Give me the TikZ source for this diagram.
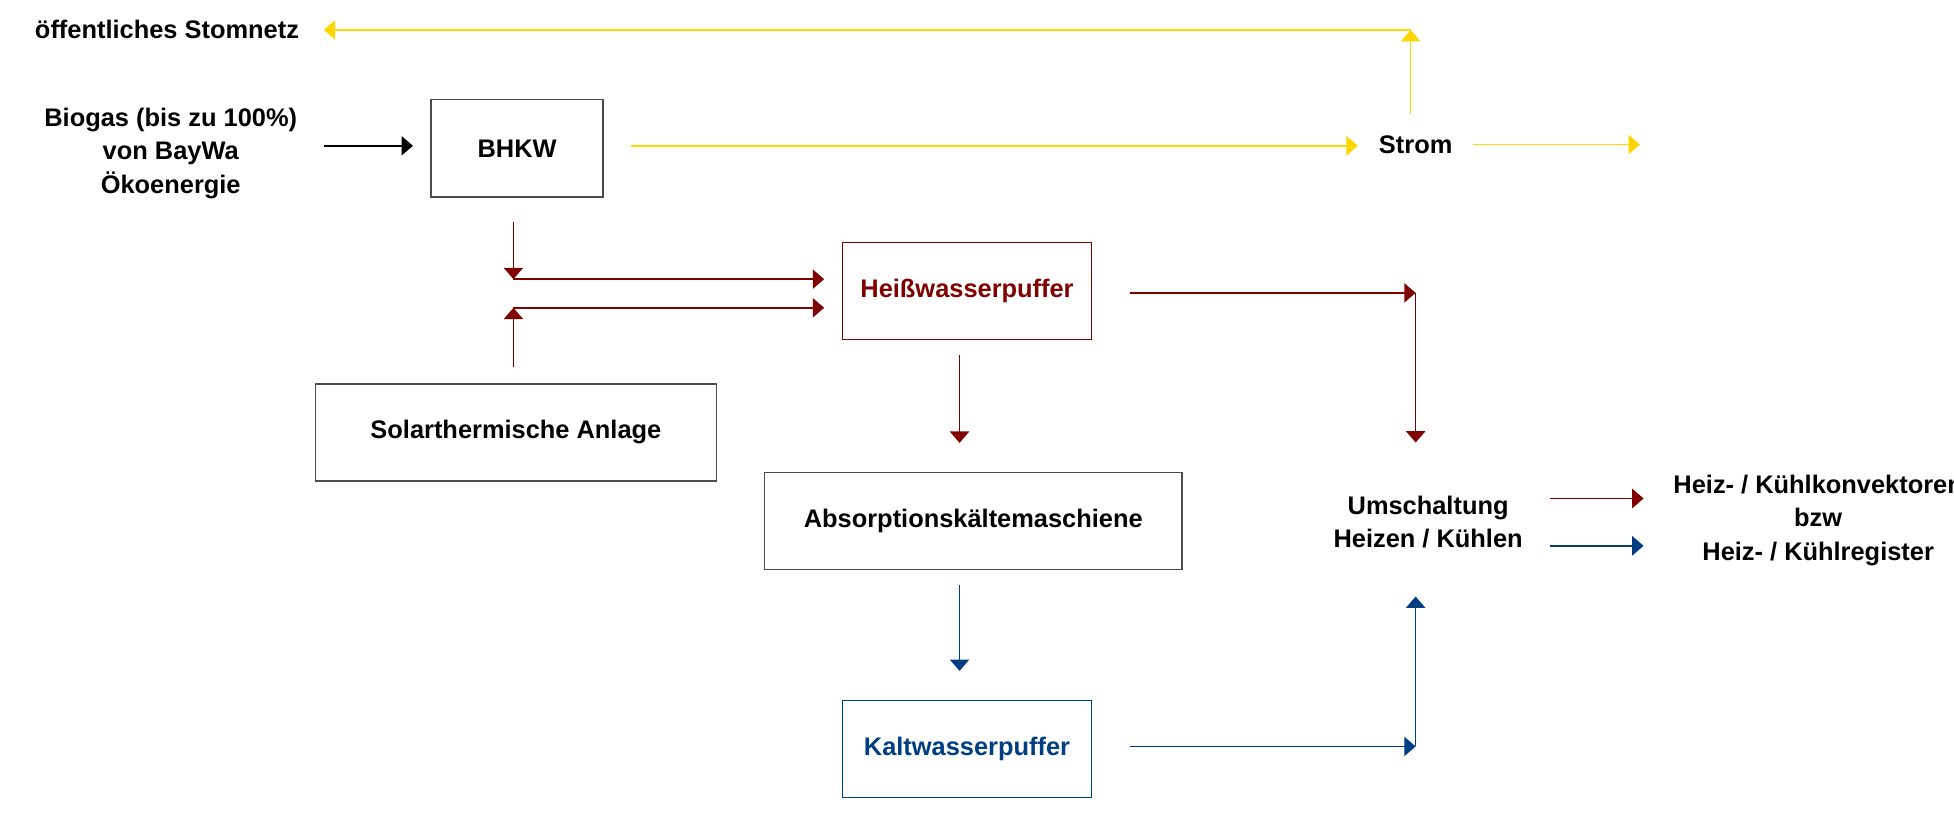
\documentclass[tikz,border=0pt]{standalone}
\usepackage{fontspec}
\setmainfont{Liberation Sans}
\usetikzlibrary{arrows.meta}
\definecolor{gelb}{RGB}{255,214,0}
\definecolor{dunkelrot}{RGB}{128,0,0}
\definecolor{dunkelblau}{RGB}{0,62,130}
\tikzset{
  kasten/.style={draw=black!70, line width=0.8pt, minimum height=1.95cm, inner sep=0pt},
  pfeil/.style={-{Triangle[length=6.5pt,width=11pt]}, line width=0.8pt},
  gelbpfeil/.style={pfeil, draw=gelb},
  rotpfeil/.style={pfeil, draw=dunkelrot, line width=0.9pt},
  blaupfeil/.style={pfeil, draw=dunkelblau, line width=0.9pt},
}
\begin{document}
\begin{tikzpicture}[x=0.025cm, y=-0.025cm, font=\fontsize{14.5}{19}\selectfont\bfseries]
            \useasboundingbox (0,0) rectangle (1568,667);
            \node (netz) at (134,24) {öffentliches Stomnetz};
            \node[align=center] (biogas) at (137,123) {Biogas (bis zu 100\%)\\von BayWa\\Ökoenergie};
            \node[kasten, minimum width=3.45cm] (bhkw) at (415,119) {BHKW};
            \node (strom) at (1136,116) {Strom};
            \node[kasten, minimum width=5cm, draw=dunkelrot, text=dunkelrot] (hwp) at (776,233.5) {Heißwasserpuffer};
            \node[kasten, minimum width=8.05cm] (solar) at (414,347) {Solarthermische Anlage};
            \node[kasten, minimum width=8.375cm] (akm) at (781,418) {Absorptionskältemaschiene};
            \node[kasten, minimum width=5cm, draw=dunkelblau, text=dunkelblau] (kwp) at (776,601) {Kaltwasserpuffer};
            \node[align=center] (umsch) at (1146,419) {Umschaltung\\Heizen / Kühlen};
            \node[align=center] (verbr) at (1459,417.5) {Heiz- / Kühlkonvektoren\\bzw\\Heiz- / Kühlregister};
            \coordinate (netzecke) at (1132,24);
            \coordinate (stromende) at (1316,116);
            \coordinate (zulauf1) at (412,224);
            \coordinate (zulauf2) at (412,247);
            \coordinate (heissecke) at (1136,235);
            \coordinate (kaltecke) at (1136,599);
            \draw[pfeil, shorten <=12pt, shorten >=10pt] ([yshift=0.05cm]biogas.east |- bhkw.west) -- ([yshift=0.05cm]bhkw.west);
            \draw[gelbpfeil, shorten <=15.6pt, shorten >=8.5pt] ([yshift=0.05cm]bhkw.east) -- ([yshift=0.05cm]strom.west |- bhkw.east);
            \draw[gelbpfeil, shorten <=8.5pt] (strom.east) -- (stromende);
            \draw[gelbpfeil, shorten <=8.5pt] (strom.north -| netzecke) -- (netzecke);
            \draw[gelbpfeil, shorten >=10.6pt] (netzecke) -- (netz.east);
            \draw[rotpfeil, shorten <=14pt] (bhkw.south -| zulauf1) -- (zulauf1);
            \draw[rotpfeil, shorten >=10pt] (zulauf1) -- (zulauf1 -| hwp.west);
            \draw[rotpfeil, shorten <=9.2pt] (solar.north -| zulauf2) -- (zulauf2);
            \draw[rotpfeil, shorten >=10pt] (zulauf2) -- (zulauf2 -| hwp.west);
            \draw[rotpfeil, shorten <=21.3pt] (hwp.east |- heissecke) -- (heissecke);
            \draw[rotpfeil, shorten >=27pt] (heissecke) -- (heissecke |- umsch.north);
            \draw[rotpfeil, shorten <=8.5pt, shorten >=16.4pt] ([xshift=-0.15cm]hwp.south) -- ([xshift=-0.15cm]hwp.south |- akm.north);
            \draw[blaupfeil, shorten <=8.5pt, shorten >=16.4pt] ([xshift=-0.15cm]kwp.north |- akm.south) -- ([xshift=-0.15cm]kwp.north);
            \draw[blaupfeil, shorten <=21.3pt] (kwp.east |- kaltecke) -- (kaltecke);
            \draw[blaupfeil, shorten >=24pt] (kaltecke) -- (kaltecke |- umsch.south);
            \draw[rotpfeil, shorten <=12pt, shorten >=13.5pt] ([yshift=0.475cm]umsch.east) -- ([yshift=0.475cm]umsch.east -| verbr.west);
            \draw[blaupfeil, shorten <=12pt, shorten >=13.5pt] ([yshift=-0.475cm]umsch.east) -- ([yshift=-0.475cm]umsch.east -| verbr.west);
        \end{tikzpicture}
\end{document}
